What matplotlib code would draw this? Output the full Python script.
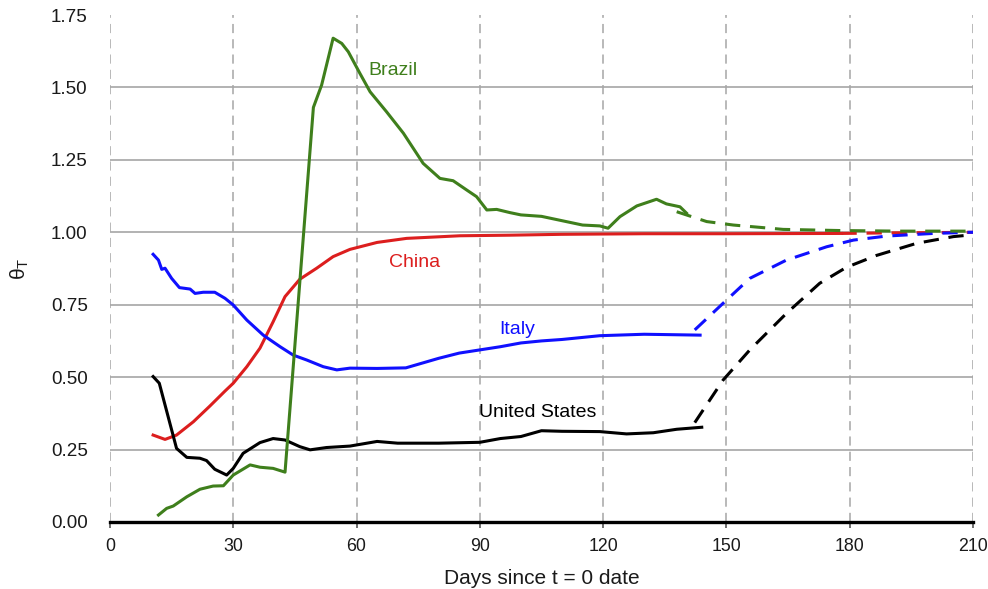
import matplotlib
matplotlib.use("Agg")
import matplotlib.pyplot as plt

plt.rcParams['font.family'] = ['Liberation Sans', 'DejaVu Sans']
plt.rcParams['mathtext.fontset'] = 'custom'
plt.rcParams['mathtext.rm'] = 'Liberation Sans'

# measured theta_T (solid) and projected tails (dashed)
us_day = [10.5, 12, 16.2, 18.7, 21.9, 23.5, 25.5, 28.4, 30, 32.4, 36.5, 39.7, 42.6, 46.2, 48.7,
          52.7, 58.4, 65, 70, 80, 90, 95, 100, 105, 110, 119.2, 125.7, 132.2, 137.9, 144]
us_val = [0.502, 0.479, 0.254, 0.223, 0.22, 0.212, 0.182, 0.162, 0.185, 0.237, 0.274, 0.288, 0.283, 0.26, 0.249,
          0.257, 0.262, 0.278, 0.272, 0.272, 0.275, 0.288, 0.295, 0.315, 0.313, 0.312, 0.304, 0.308, 0.32, 0.327]
us_proj_day = [142.3, 149.2, 155.7, 164.6, 172.7, 179.2, 186.5, 196.3, 205.2, 211]
us_proj_val = [0.343, 0.49, 0.594, 0.72, 0.824, 0.879, 0.92, 0.962, 0.985, 0.993]

it_day = [10.5, 11.8, 12.6, 13.4, 15, 16.9, 19.5, 20.7, 22.7, 25.5, 28, 30, 33.3, 37.3, 41.4, 44.6, 47.9,
          51.9, 55.2, 58.4, 65, 72, 80, 85, 90, 95, 100, 105, 110, 119.2, 130, 143.6]
it_val = [0.924, 0.904, 0.872, 0.876, 0.841, 0.809, 0.804, 0.789, 0.793, 0.793, 0.772, 0.749, 0.697, 0.645, 0.605, 0.576, 0.559,
          0.536, 0.525, 0.531, 0.53, 0.532, 0.565, 0.583, 0.594, 0.605, 0.618, 0.625, 0.63, 0.643, 0.648, 0.645]
it_proj_day = [142.3, 149.2, 155.7, 164.6, 174.4, 180.9, 189, 200.3, 209.2, 211]
it_proj_val = [0.663, 0.755, 0.841, 0.904, 0.95, 0.973, 0.987, 0.996, 1.0, 1.0]

cn_day = [10.5, 13.4, 16.2, 20.3, 24.3, 28, 30, 33.3, 36.5, 39.7, 42.6, 46.2, 50.3, 54.3, 58.4,
          65, 72.2, 85.2, 97.3, 110, 130, 150, 178]
cn_val = [0.30, 0.285, 0.30, 0.346, 0.40, 0.452, 0.479, 0.536, 0.60, 0.691, 0.778, 0.838, 0.876, 0.916, 0.941,
          0.965, 0.979, 0.988, 0.99, 0.993, 0.995, 0.995, 0.996]
cn_proj_day = [178, 190, 200, 211]
cn_proj_val = [0.996, 0.998, 0.999, 1.0]

br_day = [11.8, 13.8, 15.4, 18.7, 21.9, 25.1, 27.6, 30, 34.1, 36.5, 39.7, 42.6, 49.5, 51.5, 54.3, 56.4, 58,
          60.8, 63.3, 67.3, 71.4, 76.2, 80.3, 83.5, 86.8, 89.2, 91.7, 94.1, 97.3, 100, 105, 110, 115,
          119.2, 121.2, 124.1, 128.2, 133, 135.4, 138.7, 140.3]
br_val = [0.024, 0.047, 0.055, 0.087, 0.113, 0.124, 0.125, 0.162, 0.197, 0.189, 0.185, 0.172, 1.431, 1.508, 1.67, 1.652, 1.623,
          1.549, 1.485, 1.416, 1.342, 1.238, 1.186, 1.178, 1.146, 1.123, 1.077, 1.079, 1.068, 1.06, 1.055, 1.04, 1.025,
          1.022, 1.014, 1.054, 1.091, 1.114, 1.098, 1.088, 1.066]
br_proj_day = [137.9, 145.2, 151.7, 163.8, 177.6, 192.2, 211]
br_proj_val = [1.071, 1.037, 1.025, 1.01, 1.006, 1.004, 1.004]

GREEN = '#3f7f1c'
RED = '#dc1e1e'
BLUE = '#1010ff'
BLACK = '#000000'

fig = plt.figure(figsize=(9.88, 5.89), dpi=100)
ax = fig.add_axes([0.1113, 0.1138, 0.8735, 0.8607])

lw = 2.2
dash = (5, 3.2)
ax.plot(cn_proj_day, cn_proj_val, color=RED, lw=lw, dashes=dash, zorder=3)
ax.plot(cn_day, cn_val, color=RED, lw=lw, zorder=3)
ax.plot(it_proj_day, it_proj_val, color=BLUE, lw=lw, dashes=dash, zorder=4)
ax.plot(it_day, it_val, color=BLUE, lw=lw, zorder=4)
ax.plot(us_proj_day, us_proj_val, color=BLACK, lw=lw, dashes=dash, zorder=5)
ax.plot(us_day, us_val, color=BLACK, lw=lw, zorder=5)
ax.plot(br_proj_day, br_proj_val, color=GREEN, lw=lw, dashes=dash, zorder=6)
ax.plot(br_day, br_val, color=GREEN, lw=lw, zorder=6)

ax.text(68.9, 1.557, 'Brazil', color=GREEN, fontsize=14, ha='center', va='center')
ax.text(74.2, 0.894, 'China', color=RED, fontsize=14, ha='center', va='center')
ax.text(99.2, 0.666, 'Italy', color=BLUE, fontsize=14, ha='center', va='center')
ax.text(104.1, 0.377, 'United States', color=BLACK, fontsize=14, ha='center', va='center')

ax.set_xlim(0, 210)
ax.set_ylim(0, 1.75)
ax.set_xticks(range(0, 211, 30))
ax.set_yticks([i * 0.25 for i in range(8)])
ax.set_yticklabels(['%.2f' % (i * 0.25) for i in range(8)])

for s in ['top', 'right', 'left']:
    ax.spines[s].set_visible(False)
ax.spines['bottom'].set_linewidth(2.4)
ax.spines['bottom'].set_zorder(7)

ax.yaxis.grid(True, color='#a6a6a6', lw=1.2)
ax.xaxis.grid(True, color='#a6a6a6', lw=1.1, linestyle=(0, (6, 4)))
ax.get_ygridlines()[-1].set_visible(False)
ax.get_ygridlines()[0].set_visible(False)
ax.set_axisbelow(True)

ax.tick_params(axis='both', colors='#1a1a1a')
ax.tick_params(axis='x', labelsize=12.8, length=4.5, width=1.2, color='#555555', pad=7)
ax.tick_params(axis='y', labelsize=13.6, length=0, pad=16)
ax.set_xlabel('Days since t = 0 date', fontsize=15, color='#1a1a1a', labelpad=10)
ax.set_ylabel(r'$\mathregular{\theta_T}$', fontsize=15, color='#1a1a1a', labelpad=14)

fig.savefig('out.png', dpi=100)
